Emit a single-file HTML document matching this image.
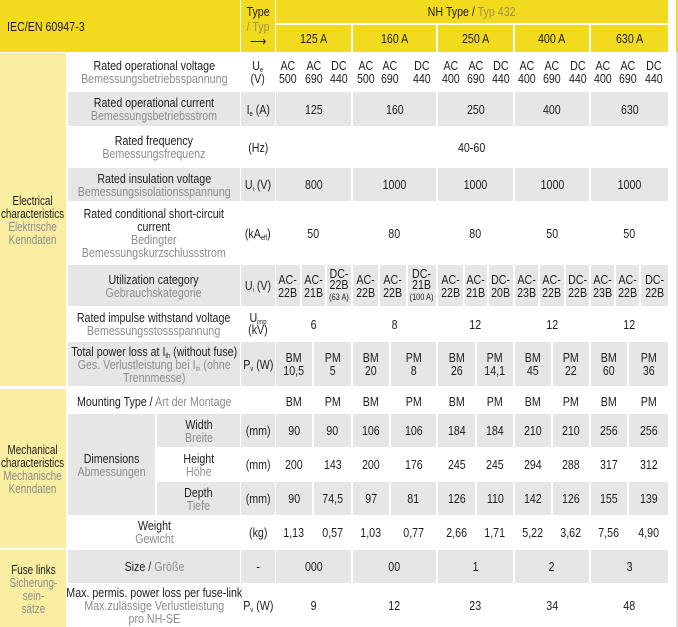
<!DOCTYPE html>
<html><head><meta charset="utf-8">
<style>
*{margin:0;padding:0;box-sizing:border-box}
body{width:678px;height:627px;background:#fff;position:relative;overflow:hidden;font-family:"Liberation Sans",Arial,sans-serif;font-size:13px;color:#1e1e1e;line-height:13px}
.c{position:absolute;display:flex;align-items:center;justify-content:center;text-align:center}
.c>i{font-style:normal;display:block;transform:scaleX(.82);white-space:nowrap}
.p>i{transform:scaleX(.76)}
.g{background:#e6e6e6}
.y{background:#f2da1e}
.p{background:#f9eda2}
.d{color:#8c8c8c}
.t{color:#9c9150}
sub{font-size:7px;vertical-align:-2px;line-height:0}
.s{font-size:9px}
</style></head><body>
<!-- header -->
<div class="c y" style="left:0;top:0;width:240px;height:52px;justify-content:flex-start;padding-left:7px"><i style="transform-origin:left">IEC/EN 60947-3</i></div>
<div class="c y" style="left:241px;top:0;width:34px;height:52px"><i style="line-height:15px">Type<br><span class="t">/ Typ</span><br><span style="font-size:14px">&#10230;</span></i></div>
<div class="c y" style="left:276px;top:0;width:392px;height:23px"><i>NH Type / <span class="t">Typ 432</span></i></div>
<div class="c y" style="left:276px;top:25px;width:75px;height:27px"><i>125 A</i></div>
<div class="c y" style="left:353px;top:25px;width:83px;height:27px"><i>160 A</i></div>
<div class="c y" style="left:438px;top:25px;width:75px;height:27px"><i>250 A</i></div>
<div class="c y" style="left:515px;top:25px;width:74px;height:27px"><i>400 A</i></div>
<div class="c y" style="left:591px;top:25px;width:77px;height:27px"><i>630 A</i></div>
<div style="position:absolute;left:676px;top:0;width:2px;height:52px;background:#f2da1e"></div>
<div style="position:absolute;left:676px;top:52px;width:2px;height:575px;background:#e2e2e2"></div>

<!-- section labels -->
<div class="c p" style="left:0;top:53px;width:66px;height:333px"><i>Electrical<br>characteristics<br><span class="d">Elektrische<br>Kenndaten</span></i></div>
<div class="c p" style="left:0;top:389px;width:66px;height:159px"><i>Mechanical<br>characteristics<br><span class="d">Mechanische<br>Kenndaten</span></i></div>
<div class="c p" style="left:0;top:550px;width:66px;height:77px"><i>Fuse links<br><span class="d">Sicherung-<br>sein-<br>sätze</span></i></div>

<!-- R1 voltage -->
<div class="c" style="left:68px;top:53px;width:172px;height:38px"><i>Rated operational voltage<br><span class="d">Bemessungsbetriebsspannung</span></i></div>
<div class="c" style="left:241px;top:53px;width:34px;height:38px"><i>U<sub>e</sub><br>(V)</i></div>
<div class="c" style="left:276px;top:53px;width:24px;height:38px"><i>AC<br>500</i></div>
<div class="c" style="left:302px;top:53px;width:23px;height:38px"><i>AC<br>690</i></div>
<div class="c" style="left:327px;top:53px;width:24px;height:38px"><i>DC<br>440</i></div>
<div class="c" style="left:353px;top:53px;width:25px;height:38px"><i>AC<br>500</i></div>
<div class="c" style="left:378px;top:53px;width:24px;height:38px"><i>AC<br>690</i></div>
<div class="c" style="left:408px;top:53px;width:28px;height:38px"><i>DC<br>440</i></div>
<div class="c" style="left:438px;top:53px;width:25px;height:38px"><i>AC<br>400</i></div>
<div class="c" style="left:465px;top:53px;width:22px;height:38px"><i>AC<br>690</i></div>
<div class="c" style="left:489px;top:53px;width:24px;height:38px"><i>DC<br>440</i></div>
<div class="c" style="left:515px;top:53px;width:23px;height:38px"><i>AC<br>400</i></div>
<div class="c" style="left:540px;top:53px;width:24px;height:38px"><i>AC<br>690</i></div>
<div class="c" style="left:566px;top:53px;width:23px;height:38px"><i>DC<br>440</i></div>
<div class="c" style="left:591px;top:53px;width:23px;height:38px"><i>AC<br>400</i></div>
<div class="c" style="left:616px;top:53px;width:23px;height:38px"><i>AC<br>690</i></div>
<div class="c" style="left:641px;top:53px;width:25px;height:38px"><i>DC<br>440</i></div>

<!-- R2 current -->
<div class="c g" style="left:68px;top:92px;width:172px;height:34px"><i>Rated operational current<br><span class="d">Bemessungsbetriebsstrom</span></i></div>
<div class="c g" style="left:241px;top:92px;width:34px;height:34px"><i>I<sub>e</sub> (A)</i></div>
<div class="c g" style="left:276px;top:92px;width:75px;height:34px"><i>125</i></div>
<div class="c g" style="left:353px;top:92px;width:83px;height:34px"><i>160</i></div>
<div class="c g" style="left:438px;top:92px;width:75px;height:34px"><i>250</i></div>
<div class="c g" style="left:515px;top:92px;width:74px;height:34px"><i>400</i></div>
<div class="c g" style="left:591px;top:92px;width:77px;height:34px"><i>630</i></div>

<!-- R3 freq -->
<div class="c" style="left:68px;top:127px;width:172px;height:40px"><i>Rated frequency<br><span class="d">Bemessungsfrequenz</span></i></div>
<div class="c" style="left:241px;top:127px;width:34px;height:40px"><i>(Hz)</i></div>
<div class="c" style="left:276px;top:127px;width:392px;height:40px"><i>40-60</i></div>

<!-- R4 insulation -->
<div class="c g" style="left:68px;top:168px;width:172px;height:33px"><i>Rated insulation voltage<br><span class="d">Bemessungsisolationsspannung</span></i></div>
<div class="c g" style="left:241px;top:168px;width:34px;height:33px"><i>U<sub>i</sub> (V)</i></div>
<div class="c g" style="left:276px;top:168px;width:75px;height:33px"><i>800</i></div>
<div class="c g" style="left:353px;top:168px;width:83px;height:33px"><i>1000</i></div>
<div class="c g" style="left:438px;top:168px;width:75px;height:33px"><i>1000</i></div>
<div class="c g" style="left:515px;top:168px;width:74px;height:33px"><i>1000</i></div>
<div class="c g" style="left:591px;top:168px;width:77px;height:33px"><i>1000</i></div>

<!-- R5 conditional -->
<div class="c" style="left:68px;top:202px;width:172px;height:62px"><i>Rated conditional short-circuit<br>current<br><span class="d">Bedingter<br>Bemessungskurzschlussstrom</span></i></div>
<div class="c" style="left:241px;top:202px;width:34px;height:62px"><i>(kA<sub>eff</sub>)</i></div>
<div class="c" style="left:276px;top:202px;width:75px;height:62px"><i>50</i></div>
<div class="c" style="left:353px;top:202px;width:83px;height:62px"><i>80</i></div>
<div class="c" style="left:438px;top:202px;width:75px;height:62px"><i>80</i></div>
<div class="c" style="left:515px;top:202px;width:74px;height:62px"><i>50</i></div>
<div class="c" style="left:591px;top:202px;width:77px;height:62px"><i>50</i></div>

<!-- R6 utilization -->
<div class="c g" style="left:68px;top:265px;width:172px;height:41px"><i>Utilization category<br><span class="d">Gebrauchskategorie</span></i></div>
<div class="c g" style="left:241px;top:265px;width:34px;height:41px"><i>U<sub>i</sub> (V)</i></div>
<div class="c g" style="left:276px;top:265px;width:24px;height:41px"><i>AC-<br>22B</i></div>
<div class="c g" style="left:302px;top:265px;width:23px;height:41px"><i>AC-<br>21B</i></div>
<div class="c g" style="left:327px;top:265px;width:24px;height:41px"><i style="line-height:11px">DC-<br>22B<br><span class="s">(63 A)</span></i></div>
<div class="c g" style="left:353px;top:265px;width:25px;height:41px"><i>AC-<br>22B</i></div>
<div class="c g" style="left:380px;top:265px;width:26px;height:41px"><i>AC-<br>22B</i></div>
<div class="c g" style="left:408px;top:265px;width:28px;height:41px"><i style="line-height:11px">DC-<br>21B<br><span class="s">(100 A)</span></i></div>
<div class="c g" style="left:438px;top:265px;width:25px;height:41px"><i>AC-<br>22B</i></div>
<div class="c g" style="left:465px;top:265px;width:22px;height:41px"><i>AC-<br>21B</i></div>
<div class="c g" style="left:489px;top:265px;width:24px;height:41px"><i>DC-<br>20B</i></div>
<div class="c g" style="left:515px;top:265px;width:23px;height:41px"><i>AC-<br>23B</i></div>
<div class="c g" style="left:540px;top:265px;width:24px;height:41px"><i>AC-<br>22B</i></div>
<div class="c g" style="left:566px;top:265px;width:23px;height:41px"><i>DC-<br>22B</i></div>
<div class="c g" style="left:591px;top:265px;width:23px;height:41px"><i>AC-<br>23B</i></div>
<div class="c g" style="left:616px;top:265px;width:23px;height:41px"><i>AC-<br>22B</i></div>
<div class="c g" style="left:641px;top:265px;width:27px;height:41px"><i>DC-<br>22B</i></div>

<!-- R7 impulse -->
<div class="c" style="left:68px;top:307px;width:172px;height:34px"><i>Rated impulse withstand voltage<br><span class="d">Bemessungsstossspannung</span></i></div>
<div class="c" style="left:241px;top:307px;width:34px;height:34px"><i style="line-height:12px">U<sub>imp</sub><br>(kV)</i></div>
<div class="c" style="left:276px;top:307px;width:75px;height:34px"><i>6</i></div>
<div class="c" style="left:353px;top:307px;width:83px;height:34px"><i>8</i></div>
<div class="c" style="left:438px;top:307px;width:75px;height:34px"><i>12</i></div>
<div class="c" style="left:515px;top:307px;width:74px;height:34px"><i>12</i></div>
<div class="c" style="left:591px;top:307px;width:77px;height:34px"><i>12</i></div>

<!-- R8 power loss -->
<div class="c g" style="left:68px;top:342px;width:172px;height:44px"><i>Total power loss at I<sub>th</sub> (without fuse)<br><span class="d">Ges. Verlustleistung bei I<sub>th</sub> (ohne<br>Trennmesse)</span></i></div>
<div class="c g" style="left:241px;top:342px;width:34px;height:44px"><i>P<sub>v</sub> (W)</i></div>
<div class="c g" style="left:276px;top:342px;width:36px;height:44px"><i>BM<br>10,5</i></div>
<div class="c g" style="left:314px;top:342px;width:37px;height:44px"><i>PM<br>5</i></div>
<div class="c g" style="left:353px;top:342px;width:36px;height:44px"><i>BM<br>20</i></div>
<div class="c g" style="left:391px;top:342px;width:45px;height:44px"><i>PM<br>8</i></div>
<div class="c g" style="left:438px;top:342px;width:37px;height:44px"><i>BM<br>26</i></div>
<div class="c g" style="left:477px;top:342px;width:36px;height:44px"><i>PM<br>14,1</i></div>
<div class="c g" style="left:515px;top:342px;width:36px;height:44px"><i>BM<br>45</i></div>
<div class="c g" style="left:553px;top:342px;width:36px;height:44px"><i>PM<br>22</i></div>
<div class="c g" style="left:591px;top:342px;width:36px;height:44px"><i>BM<br>60</i></div>
<div class="c g" style="left:629px;top:342px;width:39px;height:44px"><i>PM<br>36</i></div>

<!-- Mounting -->
<div class="c" style="left:68px;top:389px;width:172px;height:24px"><i>Mounting Type / <span class="d">Art der Montage</span></i></div>
<div class="c" style="left:276px;top:389px;width:36px;height:24px"><i>BM</i></div>
<div class="c" style="left:314px;top:389px;width:37px;height:24px"><i>PM</i></div>
<div class="c" style="left:353px;top:389px;width:36px;height:24px"><i>BM</i></div>
<div class="c" style="left:391px;top:389px;width:45px;height:24px"><i>PM</i></div>
<div class="c" style="left:438px;top:389px;width:37px;height:24px"><i>BM</i></div>
<div class="c" style="left:477px;top:389px;width:36px;height:24px"><i>PM</i></div>
<div class="c" style="left:515px;top:389px;width:36px;height:24px"><i>BM</i></div>
<div class="c" style="left:553px;top:389px;width:36px;height:24px"><i>PM</i></div>
<div class="c" style="left:591px;top:389px;width:36px;height:24px"><i>BM</i></div>
<div class="c" style="left:629px;top:389px;width:39px;height:24px"><i>PM</i></div>

<!-- Dimensions -->
<div class="c g" style="left:68px;top:414px;width:87px;height:101px"><i>Dimensions<br><span class="d">Abmessungen</span></i></div>
<div class="c g" style="left:157px;top:414px;width:83px;height:33px"><i>Width<br><span class="d">Breite</span></i></div>
<div class="c g" style="left:241px;top:414px;width:34px;height:33px"><i>(mm)</i></div>
<div class="c g" style="left:276px;top:414px;width:36px;height:33px"><i>90</i></div>
<div class="c g" style="left:314px;top:414px;width:37px;height:33px"><i>90</i></div>
<div class="c g" style="left:353px;top:414px;width:36px;height:33px"><i>106</i></div>
<div class="c g" style="left:391px;top:414px;width:45px;height:33px"><i>106</i></div>
<div class="c g" style="left:438px;top:414px;width:37px;height:33px"><i>184</i></div>
<div class="c g" style="left:477px;top:414px;width:36px;height:33px"><i>184</i></div>
<div class="c g" style="left:515px;top:414px;width:36px;height:33px"><i>210</i></div>
<div class="c g" style="left:553px;top:414px;width:36px;height:33px"><i>210</i></div>
<div class="c g" style="left:591px;top:414px;width:36px;height:33px"><i>256</i></div>
<div class="c g" style="left:629px;top:414px;width:39px;height:33px"><i>256</i></div>

<div class="c" style="left:157px;top:448px;width:83px;height:33px"><i>Height<br><span class="d">Höhe</span></i></div>
<div class="c" style="left:241px;top:448px;width:34px;height:33px"><i>(mm)</i></div>
<div class="c" style="left:276px;top:448px;width:36px;height:33px"><i>200</i></div>
<div class="c" style="left:314px;top:448px;width:37px;height:33px"><i>143</i></div>
<div class="c" style="left:353px;top:448px;width:36px;height:33px"><i>200</i></div>
<div class="c" style="left:391px;top:448px;width:45px;height:33px"><i>176</i></div>
<div class="c" style="left:438px;top:448px;width:37px;height:33px"><i>245</i></div>
<div class="c" style="left:477px;top:448px;width:36px;height:33px"><i>245</i></div>
<div class="c" style="left:515px;top:448px;width:36px;height:33px"><i>294</i></div>
<div class="c" style="left:553px;top:448px;width:36px;height:33px"><i>288</i></div>
<div class="c" style="left:591px;top:448px;width:36px;height:33px"><i>317</i></div>
<div class="c" style="left:629px;top:448px;width:39px;height:33px"><i>312</i></div>

<div class="c g" style="left:157px;top:482px;width:83px;height:33px"><i>Depth<br><span class="d">Tiefe</span></i></div>
<div class="c g" style="left:241px;top:482px;width:34px;height:33px"><i>(mm)</i></div>
<div class="c g" style="left:276px;top:482px;width:36px;height:33px"><i>90</i></div>
<div class="c g" style="left:314px;top:482px;width:37px;height:33px"><i>74,5</i></div>
<div class="c g" style="left:353px;top:482px;width:36px;height:33px"><i>97</i></div>
<div class="c g" style="left:391px;top:482px;width:45px;height:33px"><i>81</i></div>
<div class="c g" style="left:438px;top:482px;width:37px;height:33px"><i>126</i></div>
<div class="c g" style="left:477px;top:482px;width:36px;height:33px"><i>110</i></div>
<div class="c g" style="left:515px;top:482px;width:36px;height:33px"><i>142</i></div>
<div class="c g" style="left:553px;top:482px;width:36px;height:33px"><i>126</i></div>
<div class="c g" style="left:591px;top:482px;width:36px;height:33px"><i>155</i></div>
<div class="c g" style="left:629px;top:482px;width:39px;height:33px"><i>139</i></div>

<!-- Weight -->
<div class="c" style="left:68px;top:516px;width:172px;height:32px"><i>Weight<br><span class="d">Gewicht</span></i></div>
<div class="c" style="left:241px;top:516px;width:34px;height:32px"><i>(kg)</i></div>
<div class="c" style="left:276px;top:516px;width:36px;height:32px"><i>1,13</i></div>
<div class="c" style="left:314px;top:516px;width:37px;height:32px"><i>0,57</i></div>
<div class="c" style="left:353px;top:516px;width:36px;height:32px"><i>1,03</i></div>
<div class="c" style="left:391px;top:516px;width:45px;height:32px"><i>0,77</i></div>
<div class="c" style="left:438px;top:516px;width:37px;height:32px"><i>2,66</i></div>
<div class="c" style="left:477px;top:516px;width:36px;height:32px"><i>1,71</i></div>
<div class="c" style="left:515px;top:516px;width:36px;height:32px"><i>5,22</i></div>
<div class="c" style="left:553px;top:516px;width:36px;height:32px"><i>3,62</i></div>
<div class="c" style="left:591px;top:516px;width:36px;height:32px"><i>7,56</i></div>
<div class="c" style="left:629px;top:516px;width:39px;height:32px"><i>4,90</i></div>

<!-- Size -->
<div class="c g" style="left:68px;top:550px;width:172px;height:33px"><i>Size / <span class="d">Größe</span></i></div>
<div class="c g" style="left:241px;top:550px;width:34px;height:33px"><i>-</i></div>
<div class="c g" style="left:276px;top:550px;width:75px;height:33px"><i>000</i></div>
<div class="c g" style="left:353px;top:550px;width:83px;height:33px"><i>00</i></div>
<div class="c g" style="left:438px;top:550px;width:75px;height:33px"><i>1</i></div>
<div class="c g" style="left:515px;top:550px;width:74px;height:33px"><i>2</i></div>
<div class="c g" style="left:591px;top:550px;width:77px;height:33px"><i>3</i></div>

<!-- Max permis -->
<div class="c" style="left:68px;top:584px;width:172px;height:43px"><i>Max. permis. power loss per fuse-link<br><span class="d">Max.zulässige Verlustleistung<br>pro NH-SE</span></i></div>
<div class="c" style="left:241px;top:584px;width:34px;height:43px"><i>P<sub>v</sub> (W)</i></div>
<div class="c" style="left:276px;top:584px;width:75px;height:43px"><i>9</i></div>
<div class="c" style="left:353px;top:584px;width:83px;height:43px"><i>12</i></div>
<div class="c" style="left:438px;top:584px;width:75px;height:43px"><i>23</i></div>
<div class="c" style="left:515px;top:584px;width:74px;height:43px"><i>34</i></div>
<div class="c" style="left:591px;top:584px;width:77px;height:43px"><i>48</i></div>
</body></html>
